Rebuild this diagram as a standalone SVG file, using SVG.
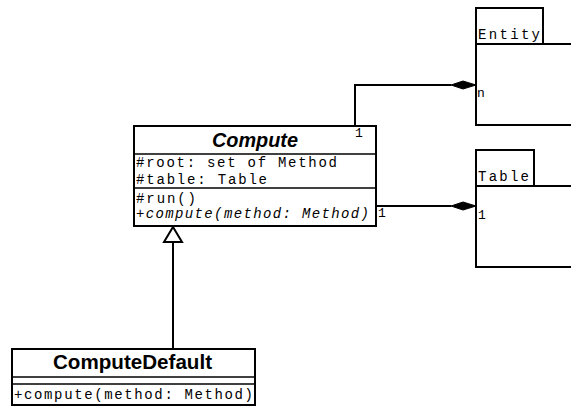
<svg xmlns="http://www.w3.org/2000/svg" width="571" height="406" viewBox="0 0 571 406">
  <style>
    .box { fill: #ffffff; stroke: #000000; stroke-width: 2; }
    .sep { stroke: #000000; stroke-width: 1.5; fill: none; }
    .mono { font-family: "Liberation Mono", "Courier New", monospace; font-size: 14px; fill: #000000; }
    .mult { font-family: "Liberation Mono", "Courier New", monospace; font-size: 13px; fill: #000000; }
    .title { font-family: "Liberation Sans", Arial, sans-serif; font-weight: bold; font-size: 20px; fill: #000000; }
    .conn { stroke: #000000; stroke-width: 2; fill: none; }
  </style>

  <!-- packages -->
  <g id="Entity">
    <rect class="box" x="476" y="8" width="67" height="36"/>
    <rect class="box" x="476" y="44" width="100" height="81"/>
    <text class="mono" x="478" y="39" textLength="62" lengthAdjust="spacing">Entity</text>
  </g>

  <g id="Table">
    <rect class="box" x="476" y="150" width="58" height="36"/>
    <rect class="box" x="476" y="186" width="100" height="81"/>
    <text class="mono" x="478" y="181" textLength="51" lengthAdjust="spacing">Table</text>
  </g>

  <!-- abstract class -->
  <g id="Compute">
    <rect class="box" x="134" y="126" width="242" height="100"/>
    <line class="sep" x1="134" y1="154" x2="376" y2="154"/>
    <line class="sep" x1="134" y1="188" x2="376" y2="188"/>
    <text class="title" x="212" y="147" font-style="italic" font-size="19" textLength="86" lengthAdjust="spacingAndGlyphs">Compute</text>
    <text class="mono" x="136" y="167" textLength="201" lengthAdjust="spacing">#root: set of Method</text>
    <text class="mono" x="136" y="184" textLength="131" lengthAdjust="spacing">#table: Table</text>
    <text class="mono" x="136" y="203" textLength="60" lengthAdjust="spacing">#run()</text>
    <text class="mono" x="136" y="218" font-style="italic" textLength="233" lengthAdjust="spacing">+compute(method: Method)</text>
  </g>

  <!-- concrete subclass -->
  <g id="ComputeDefault">
    <rect class="box" x="12" y="349" width="243" height="56"/>
    <line class="sep" x1="12" y1="377" x2="255" y2="377"/>
    <line class="sep" x1="12" y1="384" x2="255" y2="384"/>
    <text class="title" x="53" y="369" textLength="159" lengthAdjust="spacingAndGlyphs">ComputeDefault</text>
    <text class="mono" x="14" y="399" textLength="239" lengthAdjust="spacing">+compute(method: Method)</text>
  </g>

  <!-- connectors -->
  <g id="connectors">
    <!-- Compute to Entity composition -->
    <polyline class="conn" points="355,126 355,85 451,85"/>
    <polygon points="451,85 463,81 476,85 463,89" fill="#000000" stroke="#000000" stroke-width="1"/>
    <text class="mult" x="355" y="137">1</text>
    <text class="mult" x="477" y="97">n</text>

    <!-- Compute to Table composition -->
    <line class="conn" x1="376" y1="206" x2="451" y2="206"/>
    <polygon points="451,206 463,202 476,206 463,210" fill="#000000" stroke="#000000" stroke-width="1"/>
    <text class="mult" x="378" y="217">1</text>
    <text class="mult" x="478" y="219">1</text>

    <!-- generalization ComputeDefault to Compute -->
    <line class="conn" x1="173" y1="349" x2="173" y2="242"/>
    <polygon points="173,227 182,242 164,242" fill="#ffffff" stroke="#000000" stroke-width="2"/>
  </g>
</svg>
